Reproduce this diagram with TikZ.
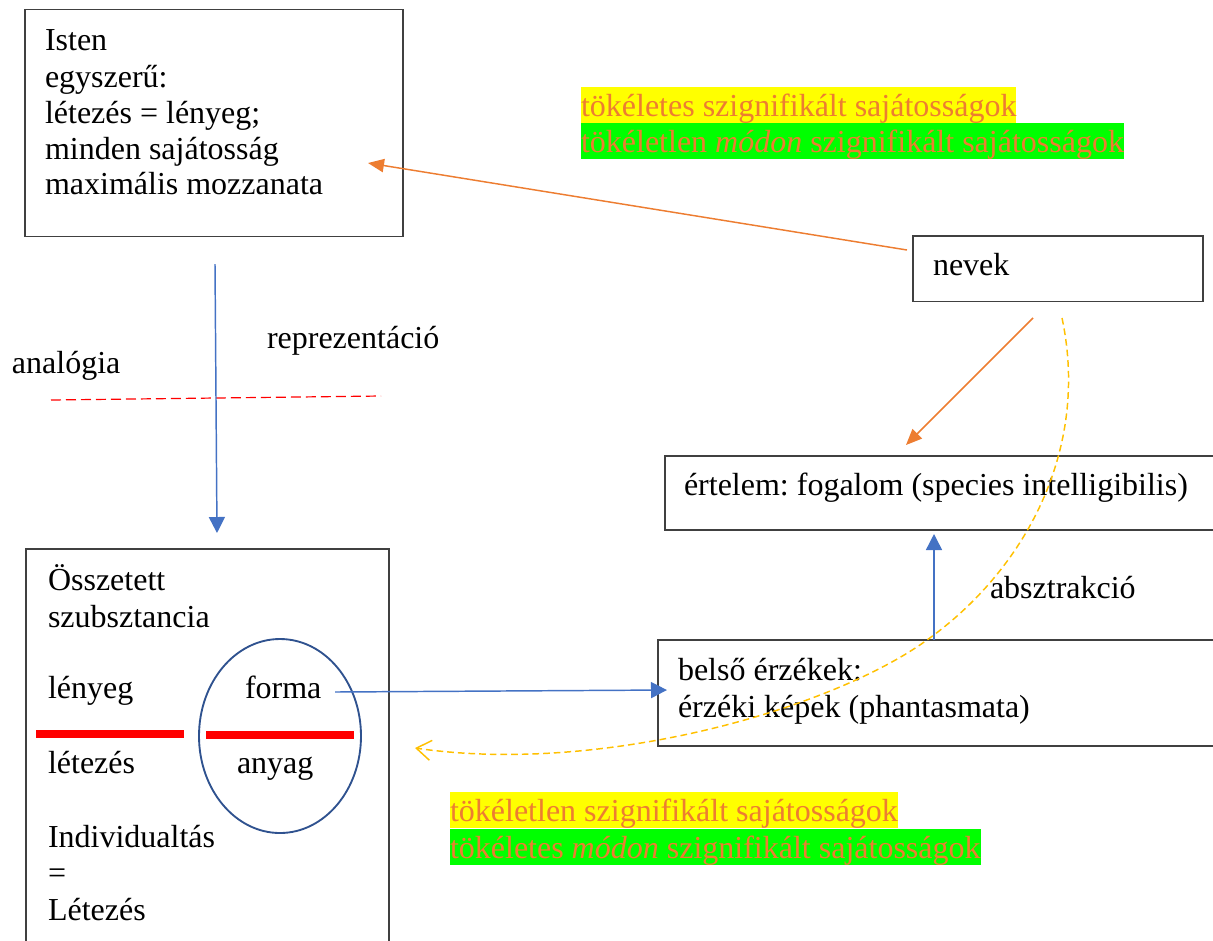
\documentclass[tikz,border=0pt]{standalone}
\usepackage{fontspec}
\setmainfont{Liberation Serif}
\newfontfamily\tnr{Liberation Serif}
\frenchspacing
\usetikzlibrary{arrows.meta,shapes.geometric}
\definecolor{orng}{HTML}{ED7D31}
\definecolor{blu}{HTML}{4472C4}
\definecolor{gold}{HTML}{FFC000}
\definecolor{ellc}{HTML}{2F528F}
\definecolor{hlgreen}{HTML}{00FF00}
\definecolor{hlyellow}{HTML}{FFFF00}
\definecolor{boxc}{HTML}{404040}
\begin{document}
\begin{tikzpicture}[x=0.75pt,y=-0.75pt,
  font=\tnr\fontsize{24pt}{27pt}\selectfont,
  box/.style={draw=boxc,line width=1pt,inner sep=0pt,outer sep=0pt,anchor=north west},
  txt/.style={anchor=base west,inner sep=0pt,outer sep=0pt},
  hl/.style={anchor=base west,inner xsep=0pt,inner ysep=0pt,outer sep=0pt,text=orng,text height=21.5pt,text depth=5.5pt},
  bluearrow/.style={draw=blu,line width=1.1pt,-{Triangle[length=12pt,width=12pt]}},
  orangearrow/.style={draw=orng,line width=1.1pt,-{Triangle[length=12pt,width=10pt]}},
  goldcurve/.style={draw=gold,line width=1.1pt,dash pattern=on 5pt off 3pt,-{Straight Barb[length=11pt,width=15pt]}},
  redbar/.style={draw=red,line width=6pt},
  reddash/.style={draw=red,line width=0.9pt,dash pattern=on 7.5pt off 3.75pt},
]
\useasboundingbox (0,0) rectangle (1213,940);
\clip (0,0) rectangle (1213,940);

% Isten box
\node[box,minimum width=283.5pt,minimum height=170pt] (isten) at (25,9.5) {};
\node[txt] (i1) at (45,50) {Isten};
\node[txt] (i2) at (45,87) {egyszerű:};
\node[txt] (i3) at (45,123) {létezés = lényeg;};
\node[txt] (i4) at (45,159) {minden sajátosság};
\node[txt] (i5) at (45,194) {maximális mozzanata};

% highlighted texts top
\node[hl,fill=hlyellow] (hl1) at (581,116) {tökéletes szignifikált sajátosságok};
\node[hl,fill=hlgreen] (hl2) at (581,152) {tökéletlen \textit{módon} szignifikált sajátosságok};

% nevek
\node[box,minimum width=217.5pt,minimum height=49pt] (nevek) at (913,236) {};
\node[txt] (nevekt) at (933,275) {nevek};

% labels
\node[txt] (analogia) at (12,373) {analógia};
\node[txt] (reprez) at (267,348) {reprezentáció};
\node[txt] (absztr) at (990,598) {absztrakció};

% ertelem
\node[box,minimum width=420pt,minimum height=55.5pt] (ertelem) at (665,456) {};
\node[txt] (ertelemt) at (684,495) {értelem: fogalom (species intelligibilis)};

% belso
\node[box,minimum width=427.5pt,minimum height=79.5pt] (belso) at (658,640) {};
\node[txt] (b1) at (678,680) {belső érzékek:};
\node[txt] (b2) at (678,717) {érzéki képek (phantasmata)};

% osszetett
\node[box,minimum width=272.25pt,minimum height=315pt] (ossz) at (26,549) {};
\node[txt] (o1) at (48,590) {Összetett};
\node[txt] (o2) at (48,627) {szubsztancia};
\node[txt] (o3) at (48,698) {lényeg};
\node[txt] (o4) at (48,773) {létezés};
\node[txt] (o5) at (48,847) {Individualtás};
\node[txt] (o6) at (48,883) {=};
\node[txt] (o7) at (48,920) {Létezés};

% ellipse
\node[draw=ellc,line width=1.4pt,ellipse,minimum width=121.5pt,minimum height=145.5pt,inner sep=0pt] (ell) at (280,736) {};
\node[txt] (forma) at (245,698) {forma};
\node[txt] (anyag) at (237,773) {anyag};
\draw[redbar] (36,734) -- (184,734);
\draw[redbar] (206,735) -- (354,735);

% bottom highlights
\node[hl,fill=hlyellow] (hl3) at (450,821) {tökéletlen szignifikált sajátosságok};
\node[hl,fill=hlgreen] (hl4) at (450,858) {tökéletes \textit{módon} szignifikált sajátosságok};

% red dashed line
\coordinate (rd1) at (51,400);
\coordinate (rd2) at (381,396);
\draw[reddash] (rd1) -- (rd2);

% connector coordinates
\coordinate (istenIn) at (368,163);
\coordinate (nevekOut) at (907,250);
\coordinate (istenDown) at (215,264);
\coordinate (osszTop) at (217,533);
\coordinate (formaOut) at (335,692);
\coordinate (belsoIn) at (667,690);
\coordinate (belsoUp) at (934,640);
\coordinate (ertelemIn) at (934,534);
\coordinate (nevekDown) at (1033,318);
\coordinate (ertelemTop) at (906,445);
\coordinate (curveStart) at (1062,318);
\coordinate (curveMid) at (927,640);
\coordinate (curveEnd) at (415,748);

\draw[orangearrow] (nevekOut) -- (istenIn);
\draw[orangearrow] (nevekDown) -- (ertelemTop);
\draw[bluearrow] (istenDown) -- (osszTop);
\draw[bluearrow] (formaOut) -- (belsoIn);
\draw[bluearrow] (belsoUp) -- (ertelemIn);
\draw[goldcurve] (curveStart) .. controls (1090,450) and (1025,570) .. (curveMid) .. controls (830,710) and (600,775) .. (curveEnd);
\end{tikzpicture}
\end{document}
